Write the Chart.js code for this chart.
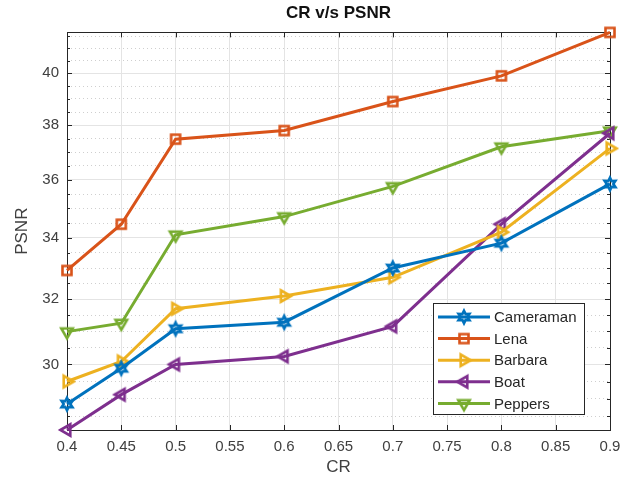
<!DOCTYPE html>
<html>
<head>
<meta charset="utf-8">
<script src="https://cdn.jsdelivr.net/npm/chart.js@4/dist/chart.umd.min.js"></script>
<style>
  body { margin: 0; background: #fff; }
  #c { display: block; }
</style>
</head>
<body>
<canvas id="c" width="643" height="487"></canvas>
<script>
// ---- data ----
var cr        = [0.4, 0.45, 0.5, 0.6, 0.7, 0.8, 0.9];
var cameraman = [28.85, 29.89, 31.08, 31.28, 33.0, 33.82, 35.86];
var lena      = [32.92, 34.46, 37.48, 37.8, 38.9, 39.9, 41.65];
var barbara   = [29.5, 30.09, 31.7, 32.1, 32.7, 34.19, 37.14];
var boat      = [28.12, 29.12, 30.0, 30.24, 31.15, 34.46, 37.7];
var peppers   = [30.99, 31.25, 34.1, 34.72, 35.77, 37.2, 37.79];

var seriesNames = ['Cameraman', 'Lena', 'Barbara', 'Boat', 'Peppers'];
var xTicks = [0.4, 0.45, 0.5, 0.55, 0.6, 0.65, 0.7, 0.75, 0.8, 0.85, 0.9];
var yTicks = [30, 32, 34, 36, 38, 40];

var FONT = '"Liberation Sans", Arial, Helvetica, sans-serif';
var INK = '#262626';
var colors = ['#0072BD', '#D95319', '#EDB120', '#7E2F8E', '#77AC30'];
var shapes = ['hexagram', 'square', 'triRight', 'triLeft', 'triDown'];

// minor y grid every 0.5 inside the axis range
var allY = [lena, cameraman, barbara, boat, peppers].reduce(function(a, b){ return a.concat(b); }, []);
var yMin = Math.min.apply(null, allY), yMax = Math.max.apply(null, allY);
var yGrid = [];
for (var v = Math.ceil(yMin * 2) / 2; v <= yMax + 1e-9; v += 0.5) yGrid.push(Math.round(v * 10) / 10);

// ---- marker images (MATLAB style, unfilled, thick edge) ----
function makeMarker(shape, color) {
    var s = 20, c = document.createElement('canvas');
    c.width = s; c.height = s;
    var g = c.getContext('2d');
    g.translate(s/2, s/2);
    g.strokeStyle = color; g.lineWidth = 2.6; g.lineJoin = 'miter';
    g.beginPath();
    if (shape === 'square') {
        g.rect(-4.5, -4.5, 9, 9);
    } else if (shape === 'hexagram') {
        for (var i = 0; i < 12; i++) {
            var r = i % 2 ? 3.3 : 6.2, a = -Math.PI/2 + i * Math.PI/6;
            g.lineTo(r*Math.cos(a), r*Math.sin(a));
        }
        g.closePath();
    } else {
        var rot = { triRight: 0, triDown: Math.PI/2, triLeft: Math.PI }[shape];
        for (var k = 0; k < 3; k++) {
            var b = rot + k * 2*Math.PI/3;
            g.lineTo(6.6*Math.cos(b), 6.6*Math.sin(b));
        }
        g.closePath();
    }
    g.stroke();
    return c;
}
var markers = shapes.map(function(sh, i){ return makeMarker(sh, colors[i]); });

function pts(ys) { return cr.map(function(x, i){ return { x: x, y: ys[i] }; }); }
var seriesData = [cameraman, lena, barbara, boat, peppers];

var datasets = seriesNames.map(function(name, i) {
    return {
        label: name, data: pts(seriesData[i]),
        borderColor: colors[i], backgroundColor: colors[i],
        borderWidth: 3, pointStyle: markers[i], pointRadius: 6,
        tension: 0, clip: false
    };
});

// ---- frame + inward ticks like MATLAB ----
var axisBox = {
    id: 'axisBox',
    beforeDatasetsDraw: function(chart) {
        var ctx = chart.ctx, a = chart.chartArea, xs = chart.scales.x, ys = chart.scales.y;
        ctx.save();
        ctx.strokeStyle = INK; ctx.lineWidth = 1;
        ctx.beginPath();
        xs.ticks.forEach(function(t) {
            var px = Math.round(xs.getPixelForValue(t.value)) + 0.5;
            ctx.moveTo(px, a.bottom); ctx.lineTo(px, a.bottom - 5);
            ctx.moveTo(px, a.top); ctx.lineTo(px, a.top + 5);
        });
        ys.ticks.forEach(function(t) {
            var py = Math.round(ys.getPixelForValue(t.value)) + 0.5;
            var len = yTicks.indexOf(t.value) >= 0 ? 5 : 3;
            ctx.moveTo(a.left, py); ctx.lineTo(a.left + len, py);
            ctx.moveTo(a.right, py); ctx.lineTo(a.right - len, py);
        });
        ctx.stroke();
        ctx.strokeRect(Math.round(a.left) + 0.5, Math.round(a.top) + 0.5,
                       Math.round(a.right - a.left), Math.round(a.bottom - a.top));
        ctx.restore();
    }
};

// ---- boxed legend inside the axes (bottom right) ----
var boxLegend = {
    id: 'boxLegend',
    afterDraw: function(chart) {
        var ctx = chart.ctx, a = chart.chartArea;
        var w = 151, h = 111, rowH = 21.6;
        var x0 = a.right - 26 - w, y0 = a.bottom - 16 - h;
        ctx.save();
        ctx.fillStyle = '#fff';
        ctx.fillRect(x0, y0, w, h);
        ctx.strokeStyle = INK; ctx.lineWidth = 1;
        ctx.strokeRect(Math.round(x0) + 0.5, Math.round(y0) + 0.5, w, h);
        ctx.font = '15px ' + FONT;
        ctx.textBaseline = 'middle';
        chart.data.datasets.forEach(function(ds, i) {
            var cy = y0 + 14 + i * rowH;
            ctx.strokeStyle = ds.borderColor; ctx.lineWidth = 3;
            ctx.beginPath(); ctx.moveTo(x0 + 5, cy); ctx.lineTo(x0 + 57, cy); ctx.stroke();
            var m = ds.pointStyle;
            ctx.drawImage(m, x0 + 31 - m.width/2, cy - m.height/2);
            ctx.fillStyle = INK;
            ctx.fillText(ds.label, x0 + 61, cy + 1);
        });
        ctx.restore();
    }
};

new Chart(document.getElementById('c'), {
    type: 'line',
    data: { datasets: datasets },
    plugins: [axisBox, boxLegend],
    options: {
        responsive: false, animation: false,
        layout: { padding: { left: 0, right: 33, top: 0, bottom: 0 } },
        plugins: {
            legend: { display: false },
            tooltip: { enabled: false },
            title: {
                display: true, text: 'CR v/s PSNR', fullSize: false,
                color: '#111', font: { family: FONT, size: 17, weight: 'bold', lineHeight: 1.2 },
                padding: { top: 3.5, bottom: 8.5 }
            }
        },
        scales: {
            x: {
                type: 'linear', min: 0.4, max: 0.9,
                afterBuildTicks: function(s) { s.ticks = xTicks.map(function(v){ return { value: v }; }); },
                afterFit: function(s) { s.height = 57; },
                ticks: {
                    autoSkip: false, maxRotation: 0, padding: 8, color: '#404040',
                    font: { family: FONT, size: 15 },
                    callback: function(v) { return String(+v.toFixed(2)); }
                },
                grid: { drawTicks: false, color: '#e4e4e4', lineWidth: 1 },
                border: { display: false },
                title: { display: true, text: 'CR', color: '#404040',
                         font: { family: FONT, size: 17 }, padding: { top: 0, bottom: 9 } }
            },
            y: {
                type: 'logarithmic', min: yMin, max: yMax,
                afterBuildTicks: function(s) { s.ticks = yGrid.map(function(v){ return { value: v }; }); },
                afterFit: function(s) { s.width = 67; },
                ticks: {
                    autoSkip: false, padding: 8, color: '#404040',
                    font: { family: FONT, size: 15 },
                    callback: function(v) { return yTicks.indexOf(v) >= 0 ? String(v) : ''; }
                },
                grid: {
                    drawTicks: false, lineWidth: 1,
                    color: function(c) { return c.tick && yTicks.indexOf(c.tick.value) >= 0 ? '#e4e4e4' : '#cfcfcf'; }
                },
                border: {
                    display: false,
                    dash: function(c) { return c.tick && yTicks.indexOf(c.tick.value) < 0 ? [1, 3] : []; }
                },
                title: { display: true, text: 'PSNR', color: '#404040',
                         font: { family: FONT, size: 17 }, padding: { top: 12, bottom: 0 } }
            }
        }
    }
});
</script>
</body>
</html>
